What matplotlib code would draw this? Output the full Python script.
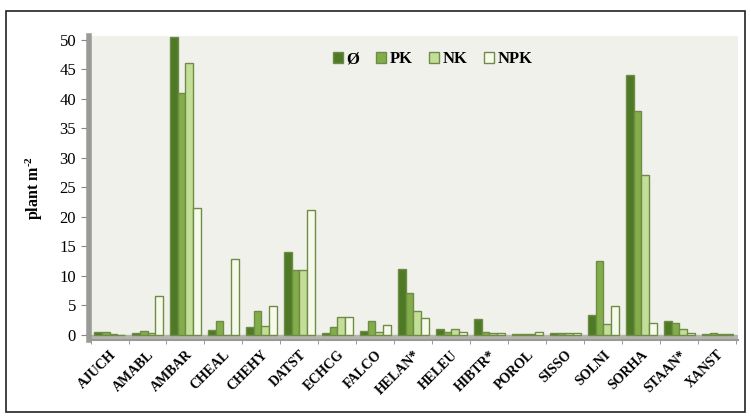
import numpy as np
import matplotlib
matplotlib.use("Agg")
import matplotlib.pyplot as plt
from matplotlib.patches import Rectangle

# species codes on the x axis
species = ["AJUCH", "AMABL", "AMBAR", "CHEAL", "CHEHY", "DATST", "ECHCG", "FALCO",
           "HELAN*", "HELEU", "HIBTR*", "POROL", "SISSO", "SOLNI", "SORHA", "STAAN*", "XANST"]

# plant m-2 per treatment
ctrl = [0.4, 0.2, 50.5, 0.7, 1.2, 14.0, 0.3, 0.6, 11.2, 0.9, 2.7, 0.1, 0.2, 3.3, 44.0, 2.3, 0.1]
pk   = [0.4, 0.6, 41.0, 2.3, 4.0, 11.0, 1.3, 2.3, 7.0, 0.4, 0.5, 0.1, 0.2, 12.5, 38.0, 2.0, 0.2]
nk   = [0.1, 0.3, 46.0, 0.0, 1.5, 11.0, 3.0, 0.5, 4.0, 0.9, 0.3, 0.1, 0.2, 1.8, 27.0, 1.0, 0.1]
npk  = [0.0, 6.5, 21.5, 12.8, 4.8, 21.2, 3.0, 1.6, 2.8, 0.5, 0.2, 0.5, 0.2, 4.8, 1.9, 0.3, 0.1]

series = [("Ø", ctrl), ("PK", pk), ("NK", nk), ("NPK", npk)]
colors = ["#4E7A26", "#82AE4A", "#C3DE97", "#F6FAEA"]
edge = "#6F8B47"

plt.rcParams["font.family"] = ["Liberation Serif", "DejaVu Serif"]
plt.rcParams["font.weight"] = "bold"
plt.rcParams["mathtext.fontset"] = "custom"
plt.rcParams["mathtext.rm"] = "Liberation Serif:bold"
plt.rcParams["mathtext.default"] = "rm"

fig = plt.figure(figsize=(7.51, 4.17), dpi=100)
# outer frame of the figure
fig.patches.append(Rectangle((0.008, 0.012), 0.984, 0.962, transform=fig.transFigure,
                             fill=False, edgecolor="#222222", linewidth=1.2))

ax = fig.add_axes([0.118, 0.185, 0.865, 0.728])
ax.set_facecolor("#F0F1EA")

x = np.arange(len(species))
w = 0.2
for i, (name, vals) in enumerate(series):
    ax.bar(x + (i - 1.5) * w, vals, width=w, color=colors[i], edgecolor=edge,
           linewidth=1.0, label=name, zorder=3)

# grey floor of the pseudo 3d chart
ax.axhspan(-0.9, 0, color="#B5B5B0", zorder=2)

ax.set_xlim(-0.55, len(species) - 0.45)
ax.set_ylim(-0.9, 50.6)
ax.set_yticks(np.arange(0, 51, 5))
ax.set_xticks(x)
ax.set_xticklabels(species, rotation=45, ha="right", rotation_mode="anchor",
                   fontsize=10, fontweight="bold")
ax.set_xticks(np.arange(-0.5, len(species), 1), minor=True)
ax.tick_params(axis="x", which="major", length=0, pad=6)
ax.tick_params(axis="x", which="minor", length=3, color="#888888")
ax.tick_params(axis="y", length=6, color="#888888", labelsize=12, pad=3)
for lab in ax.get_yticklabels():
    lab.set_fontweight("normal")

for s in ["top", "right"]:
    ax.spines[s].set_visible(False)
ax.spines["left"].set_color("#9A9A96")
ax.spines["left"].set_linewidth(4)
ax.spines["bottom"].set_color("#9A9A96")
ax.spines["bottom"].set_linewidth(1.5)

ax.set_ylabel("plant m$^{\\text{-2}}$", fontsize=11.5, fontweight="bold", labelpad=10)

ax.legend(loc="upper center", bbox_to_anchor=(0.53, 1.0), ncol=4, frameon=False,
          handlelength=0.6, handleheight=0.6, handletextpad=0.2,
          columnspacing=1.0, prop={"weight": "bold", "size": 12})

fig.savefig("out.png", dpi=100)
